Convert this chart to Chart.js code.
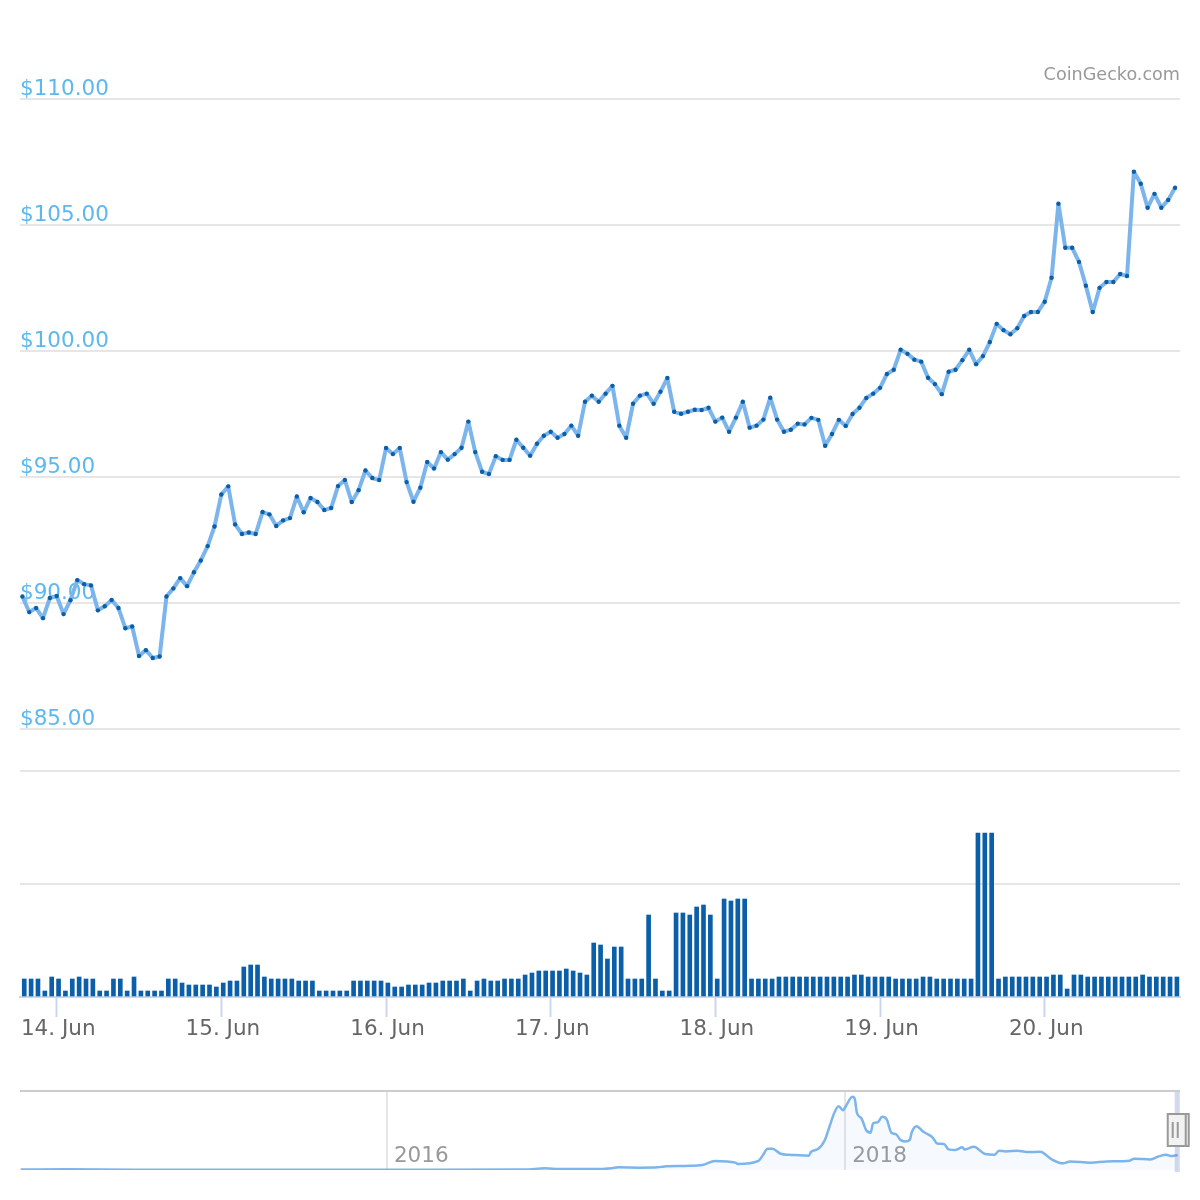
<!DOCTYPE html>
<html>
<head>
<meta charset="utf-8">
<title>Price chart</title>
<script src="https://cdn.jsdelivr.net/npm/chart.js@4/dist/chart.umd.min.js"></script>
<style>
  html, body { margin: 0; background: #fff; }
  canvas { position: absolute; left: 0; }
  #priceChart { top: 0; }
  #volumeChart { top: 760px; }
  #navChart { top: 1080px; }
</style>
</head>
<body>
<canvas id="priceChart" width="1200" height="772"></canvas>
<canvas id="volumeChart" width="1200" height="300"></canvas>
<canvas id="navChart" width="1200" height="120"></canvas>
<script>
/* ── Data ── */
const prices = [
  90.26, 89.64, 89.80, 89.40, 90.20, 90.28, 89.56, 90.11, 90.91, 90.75, 90.70, 89.71, 89.87,
  90.12, 89.80, 89.00, 89.07, 87.90, 88.13, 87.82, 87.88, 90.26, 90.58, 90.99, 90.67, 91.22,
  91.69, 92.26, 93.04, 94.31, 94.63, 93.12, 92.74, 92.80, 92.74, 93.61, 93.52, 93.06, 93.28,
  93.37, 94.23, 93.60, 94.17, 94.01, 93.69, 93.77, 94.64, 94.88, 94.01, 94.48, 95.26, 94.96,
  94.88, 96.15, 95.91, 96.15, 94.80, 94.02, 94.58, 95.60, 95.34, 95.99, 95.69, 95.91, 96.16,
  97.20, 95.99, 95.21, 95.12, 95.83, 95.68, 95.68, 96.48, 96.16, 95.85, 96.32, 96.64, 96.80,
  96.56, 96.71, 97.04, 96.64, 97.99, 98.23, 97.99, 98.31, 98.62, 97.04, 96.56, 97.91, 98.23,
  98.31, 97.91, 98.39, 98.93, 97.59, 97.51, 97.59, 97.67, 97.66, 97.75, 97.20, 97.36, 96.80,
  97.36, 97.99, 96.96, 97.04, 97.28, 98.15, 97.28, 96.80, 96.88, 97.12, 97.09, 97.35, 97.27,
  96.24, 96.71, 97.27, 97.03, 97.50, 97.75, 98.14, 98.31, 98.54, 99.09, 99.26, 100.05, 99.89,
  99.66, 99.58, 98.94, 98.69, 98.29, 99.18, 99.26, 99.64, 100.05, 99.48, 99.80, 100.36, 101.08,
  100.83, 100.67, 100.91, 101.39, 101.55, 101.55, 101.96, 102.91, 105.85, 104.10, 104.10, 103.54,
  102.59, 101.55, 102.51, 102.74, 102.74, 103.06, 102.98, 107.12, 106.64, 105.69, 106.24, 105.69,
  106.00, 106.48
];
const volumes = [
  18, 18, 18, 6, 20, 18, 6, 18, 20, 18, 18, 6, 6, 18, 18, 6, 20, 6, 6, 6, 6, 18, 18, 14, 12, 12,
  12, 12, 10, 14, 16, 16, 30, 32, 32, 20, 18, 18, 18, 18, 16, 16, 16, 6, 6, 6, 6, 6, 16, 16, 16,
  16, 16, 14, 10, 10, 12, 12, 12, 14, 14, 16, 16, 16, 18, 6, 16, 18, 16, 16, 18, 18, 18, 22, 24,
  26, 26, 26, 26, 28, 26, 24, 22, 54, 52, 38, 50, 50, 18, 18, 18, 82, 18, 6, 6, 84, 84, 82, 90,
  92, 82, 18, 98, 96, 98, 98, 18, 18, 18, 18, 20, 20, 20, 20, 20, 20, 20, 20, 20, 20, 20, 22, 22,
  20, 20, 20, 20, 18, 18, 18, 18, 20, 20, 18, 18, 18, 18, 18, 18, 164, 164, 164, 18, 20, 20, 20,
  20, 20, 20, 20, 22, 22, 8, 22, 22, 20, 20, 20, 20, 20, 20, 20, 20, 22, 20, 20, 20, 20, 20
];
const dayTicks = [0, 24, 48, 72, 96, 120, 144];
const dayLabels = ['14. Jun', '15. Jun', '16. Jun', '17. Jun', '18. Jun', '19. Jun', '20. Jun'];

const navYears = [
  2014.40, 2014.60, 2014.90, 2015.50, 2015.99, 2016.20, 2016.60, 2016.69, 2016.75, 2016.93,
  2016.98, 2017.01, 2017.10, 2017.18, 2017.21, 2017.30, 2017.38, 2017.43, 2017.52, 2017.53,
  2017.62, 2017.64, 2017.66, 2017.68, 2017.72, 2017.75, 2017.78, 2017.84, 2017.85, 2017.88,
  2017.91, 2017.93, 2017.95, 2017.97, 2017.99, 2018.00, 2018.03, 2018.04, 2018.05, 2018.07,
  2018.09, 2018.11, 2018.12, 2018.14, 2018.16, 2018.18, 2018.20, 2018.22, 2018.24, 2018.26,
  2018.28, 2018.29, 2018.31, 2018.34, 2018.38, 2018.40, 2018.43, 2018.45, 2018.48, 2018.51,
  2018.52, 2018.56, 2018.61, 2018.65, 2018.67, 2018.70, 2018.75, 2018.79, 2018.85, 2018.90,
  2018.95, 2018.98, 2019.07, 2019.14, 2019.24, 2019.26, 2019.33, 2019.37, 2019.40, 2019.42,
  2019.45
];
const navPrices = [
  3, 5, 1, 1, 1, 1, 3, 11, 6, 6, 11, 17, 15, 17, 23, 26, 34, 58, 47, 38, 58, 96, 136, 136, 102,
  98, 96, 92, 117, 134, 192, 277, 362, 409, 383, 405, 469, 458, 366, 330, 256, 239, 298, 305,
  341, 324, 239, 230, 192, 183, 192, 245, 281, 245, 209, 170, 166, 132, 128, 145, 132, 149, 102,
  98, 124, 119, 124, 115, 117, 68, 43, 55, 47, 55, 60, 72, 68, 89, 98, 89, 96
];
const yearTicks = [2016, 2018];
const yearLabels = ['2016', '2018'];
const selectedRange = [2019.437, 2019.459];

const hours = prices.map((_, i) => i - 5);

const FONT = '"DejaVu Sans", sans-serif';
const LINE_BLUE = '#7cb5ec';
const DARK_BLUE = '#0a5fa8';
const AXIS_BLUE = '#ccd6eb';
const GRID = '#e6e6e6';
const HOUR_MIN = -5.35, HOUR_MAX = 163.72;

Chart.defaults.animation = false;
Chart.defaults.font.family = FONT;
Chart.defaults.plugins.legend.display = false;
Chart.defaults.plugins.tooltip.enabled = false;

/* ── Price line ── */
new Chart(document.getElementById('priceChart'), {
  type: 'line',
  data: {
    labels: hours,
    datasets: [{
      data: prices,
      borderColor: LINE_BLUE, borderWidth: 4, tension: 0, borderJoinStyle: 'round',
      pointRadius: 2.2, pointBorderWidth: 0, pointBackgroundColor: DARK_BLUE
    }]
  },
  options: {
    responsive: false,
    layout: { padding: { top: 65, left: 20, right: 20, bottom: 43 } },
    plugins: {
      title: {
        display: true, text: 'CoinGecko.com', align: 'end', color: '#999',
        font: { size: 17.6, weight: 'normal' }, padding: { top: 0, bottom: 13 }
      }
    },
    scales: {
      x: { type: 'linear', display: false, min: HOUR_MIN, max: HOUR_MAX },
      y: {
        min: 85, max: 110,
        afterFit: s => { s.width = 0; },
        border: { display: false },
        grid: { color: GRID, lineWidth: 2, drawTicks: false },
        ticks: {
          stepSize: 5, mirror: true, padding: 0, labelOffset: -10,
          color: '#5cb8ee', font: { size: 21.5 },
          callback: v => '$' + v.toFixed(2)
        }
      }
    }
  }
});

/* ── Volume bars ── */
new Chart(document.getElementById('volumeChart'), {
  type: 'bar',
  data: {
    labels: hours,
    datasets: [{ data: volumes, xAxisID: 'xBars', backgroundColor: DARK_BLUE, barThickness: 4, borderWidth: 0 }]
  },
  options: {
    responsive: false,
    layout: { padding: { top: 11, left: 20, right: 20, bottom: 0 } },
    scales: {
      // bars sit just right of their hour, so they get their own slightly shifted axis
      xBars: { type: 'linear', display: false, offset: false, min: HOUR_MIN - 0.27, max: HOUR_MAX - 0.27 },
      x: {
        type: 'linear', position: 'bottom', offset: false, min: HOUR_MIN, max: HOUR_MAX,
        afterBuildTicks: s => { s.ticks = dayTicks.map(v => ({ value: v })); },
        afterFit: s => { s.height = 63; },
        border: { color: AXIS_BLUE, width: 2 },
        grid: { offset: false, drawOnChartArea: false, tickLength: 20, tickColor: AXIS_BLUE, tickWidth: 2 },
        ticks: {
          autoSkip: false, maxRotation: 0, padding: 0, labelOffset: 1.5, color: '#666', font: { size: 21.5 },
          callback: v => dayLabels[dayTicks.indexOf(v)]
        }
      },
      y: {
        min: 0, max: 226,
        border: { display: false },
        grid: { color: GRID, lineWidth: 2, drawTicks: false },
        ticks: { stepSize: 113, display: false }
      }
    }
  }
});

/* ── Navigator frame, selected range and handles ── */
const navFrame = {
  id: 'navFrame',
  afterDraw(chart) {
    const { ctx, chartArea: a, scales: { x } } = chart;
    const from = x.getPixelForValue(selectedRange[0]);
    const to = x.getPixelForValue(selectedRange[1]);
    ctx.save();
    ctx.fillStyle = 'rgba(102,133,194,0.3)';
    ctx.fillRect(from, a.top, to - from, a.bottom + 2 - a.top);
    ctx.strokeStyle = '#ccc';
    ctx.lineWidth = 2;
    ctx.beginPath();
    ctx.moveTo(a.left, a.top);
    ctx.lineTo(a.right, a.top);
    ctx.stroke();
    ctx.strokeStyle = '#999';
    ctx.fillStyle = '#f2f2f2';
    [from + 5, from + 2].forEach(cx => {
      ctx.fillRect(cx - 9, a.top + 23, 18, 32);
      ctx.strokeRect(cx - 9, a.top + 23, 18, 32);
    });
    [from - 2, from + 3].forEach(gx => {
      ctx.beginPath();
      ctx.moveTo(gx, a.top + 31);
      ctx.lineTo(gx, a.top + 47);
      ctx.stroke();
    });
    ctx.restore();
  }
};

new Chart(document.getElementById('navChart'), {
  type: 'line',
  data: {
    labels: navYears,
    datasets: [{
      data: navPrices,
      borderColor: LINE_BLUE, borderWidth: 2.5, pointRadius: 0,
      cubicInterpolationMode: 'monotone',
      fill: 'origin', backgroundColor: 'rgba(124,181,236,0.07)'
    }]
  },
  options: {
    responsive: false,
    layout: { padding: { top: 11, left: 20, right: 20, bottom: 30 } },
    scales: {
      x: {
        type: 'linear', min: 2014.397, max: 2019.46,
        afterBuildTicks: s => { s.ticks = yearTicks.map(v => ({ value: v })); },
        afterFit: s => { s.height = 0; },
        border: { display: false },
        grid: { color: GRID, lineWidth: 2, drawTicks: false },
        ticks: {
          autoSkip: false, maxRotation: 0, mirror: true, padding: 1, labelOffset: 34,
          color: '#999', font: { size: 21.5 },
          callback: v => yearLabels[yearTicks.indexOf(v)]
        }
      },
      y: { display: false, min: 0, max: 506 }
    }
  },
  plugins: [navFrame]
});
</script>
</body>
</html>
